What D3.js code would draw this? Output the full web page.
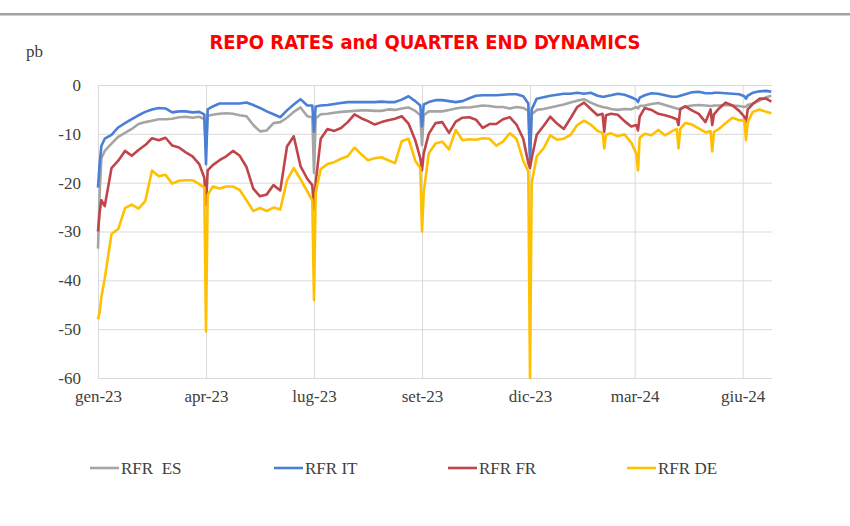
<!DOCTYPE html>
<html>
<head>
<meta charset="utf-8">
<script src="https://cdn.jsdelivr.net/npm/d3@7"></script>
<style>
  body { margin: 0; background: #fff; }
  svg { display: block; }
  .tick text { font-family: "Liberation Serif", serif; font-size: 17px; fill: #404040; }
</style>
</head>
<body>
<script>
// business-day index of each sample (0 = first trading day of 2023)
const days = [
  0, 1, 2, 4, 8, 12, 16, 20, 24, 28,
  32, 36, 40, 44, 48, 52, 56, 60, 63, 64, 65,
  68, 72, 76, 80, 84, 88, 92, 96, 100, 104,
  108, 112, 116, 120, 124, 127, 128, 129, 132, 136,
  140, 144, 148, 152, 156, 160, 164, 168, 172, 176,
  180, 184, 188, 191, 192, 193, 196, 200, 204, 208,
  212, 216, 220, 224, 228, 232, 236, 240, 244, 248,
  252, 255, 256, 257, 260, 264, 268, 272, 276, 280,
  284, 288, 292, 296, 299, 300, 301, 304, 308, 312,
  316, 319, 320, 321, 324, 328, 332, 336, 340, 343,
  344, 345, 348, 352, 356, 360, 363, 364, 365, 368,
  372, 376, 380, 383, 384, 385, 388, 392, 396, 399
]

const rfrES = [
  -33.5, -22, -15, -13.5, -12, -10.6, -9.8, -9, -8, -7.6,
  -7.3, -7, -7, -6.9, -6.6, -6.5, -6.7, -6.5, -7, -13, -6.3,
  -6.1, -5.9, -5.8, -5.9, -6.2, -6.4, -8.2, -9.5, -9.3, -7.8,
  -7.6, -6.7, -5.5, -4.6, -6.4, -6.6, -18, -6.8, -6, -5.9,
  -5.7, -5.5, -5.4, -5.3, -5.2, -5.2, -5.3, -5.3, -5, -5.1,
  -4.8, -4.6, -5.3, -6.2, -12.3, -6.2, -5.4, -5.4, -5.4, -5.1,
  -4.8, -4.6, -4.6, -4.4, -4.2, -4.3, -4.5, -4.5, -4.8, -4.5,
  -4.7, -5.3, -14, -6, -5.1, -4.9, -4.6, -4.3, -4, -3.6,
  -3.2, -2.9, -3.6, -4.2, -4.5, -4.6, -4.6, -4.9, -5.1, -4.9,
  -5, -4.5, -4.8, -4.3, -4.2, -3.9, -3.7, -4.1, -4.5, -4.8,
  -4.9, -4.8, -4.4, -4.2, -4.1, -4.2, -4.3, -4.3, -4.2, -4.2,
  -4.1, -4.2, -4.3, -4.5, -4.4, -4.1, -3.8, -3.2, -2.5, -2.2
]

const rfrIT = [
  -21, -16, -12.5, -11, -10.2, -8.7, -7.8, -7, -6.2, -5.5,
  -5, -4.7, -4.8, -5.6, -5.4, -5.4, -5.6, -5.5, -6, -16.2, -5,
  -4.4, -3.8, -3.8, -3.8, -3.8, -3.6, -4.1, -4.7, -5.4, -6,
  -6.6, -5.2, -4, -2.9, -4.2, -4.2, -9.5, -4.4, -4.2, -4.1,
  -3.9, -3.7, -3.5, -3.5, -3.5, -3.5, -3.5, -3.4, -3.5, -3.5,
  -3, -2.3, -3.3, -4.2, -8.5, -4, -3.5, -3.1, -3.1, -3.3,
  -3.5, -3.3, -2.7, -2.2, -2.1, -2.1, -2.1, -2, -1.9, -1.9,
  -2.3, -3.8, -16, -5, -2.8, -2.5, -2.2, -2, -1.8, -1.8,
  -1.6, -1.8, -1.6, -2.2, -2.4, -2.4, -2.3, -2.1, -1.8, -2,
  -2.5, -3, -3.5, -2.6, -2.1, -1.7, -1.8, -2.1, -2.4, -2.4,
  -2.3, -2.2, -1.9, -1.5, -1.4, -1.7, -1.7, -1.7, -1.6, -1.6,
  -1.7, -1.8, -1.9, -2.3, -2.8, -2.2, -1.6, -1.3, -1.2, -1.4
]

const rfrFR = [
  -30, -26, -23.6, -24.8, -17, -15.5, -13.5, -14.5, -13.3, -12.3,
  -10.9, -11.3, -10.8, -12.4, -12.8, -13.8, -14.6, -16.2, -19, -24.5, -17.5,
  -16.4, -15.4, -14.6, -13.5, -14.5, -16.8, -21.2, -22.8, -22.4, -20.5,
  -21.6, -12.6, -10.5, -16.6, -19.2, -20.5, -25.5, -20, -11, -9,
  -9.4, -8.8, -7.6, -6, -6.8, -7.4, -8.1, -7.6, -7.2, -6.9,
  -6.4, -7.9, -11.3, -15, -17.5, -14, -10, -7.8, -7.6, -9.8,
  -7.5, -6.7, -6.6, -7.1, -8.8, -8, -8, -7, -6.6, -8.1,
  -11, -16, -17, -15, -10.2, -8.4, -6.5, -7.9, -9, -6.8,
  -4.5, -3.6, -4.9, -6.2, -5.9, -9.6, -6.2, -5.9, -6.1, -7.4,
  -8.5, -8.2, -9.3, -6.5, -4.7, -5.1, -5.9, -6.2, -6.6, -7,
  -8.2, -5, -4.4, -5.2, -5.9, -7.6, -5, -8.2, -6, -4.8,
  -3.6, -4.2, -5.3, -6.5, -7.6, -5, -3.9, -2.8, -2.8, -3.4
]

const rfrDE = [
  -48, -46.5, -43.4, -39.6, -30.5, -29.5, -25.2, -24.5, -25.3, -23.8,
  -17.5, -18.7, -18.4, -20.2, -19.6, -19.5, -19.5, -20.3, -21, -50.5, -22.5,
  -20.8, -21.2, -20.8, -20.8, -21.5, -23.6, -25.8, -25.2, -25.8, -25.1,
  -25.5, -19.5, -17, -19.3, -21.8, -23.6, -44, -22, -17.2, -16.2,
  -15.8, -15.1, -14.6, -12.8, -14.2, -15.4, -15, -14.8, -15.4, -16,
  -11.5, -11, -15.5, -17, -30, -22, -14, -12, -11.6, -13.2,
  -9.2, -11.3, -11.1, -11.2, -10.9, -11, -12.4, -11.6, -9.9, -11,
  -15.5, -17.7, -60, -20, -14.6, -13, -10.3, -11.2, -11, -10.2,
  -8.2, -7.3, -8.1, -9.4, -9.8, -13, -10.2, -9.9, -10.5, -10.1,
  -11.8, -14, -17.5, -10.8, -10, -10.3, -9.2, -10.3, -9.5, -9,
  -13, -9, -7.8, -8.1, -8.9, -9.7, -9.5, -13.6, -9.6, -9,
  -7.8, -6.7, -7.2, -7.3, -11.3, -7.6, -5.5, -5, -5.5, -5.8
]

const seriesNames = ['RFR  ES', 'RFR IT', 'RFR FR', 'RFR DE']
const seriesColors = ['#a5a5a5', '#4a7fd6', '#c0454a', '#ffc000']
const seriesValues = [rfrES, rfrIT, rfrFR, rfrDE]

const xTickDays = [0, 64, 128, 192, 256, 318, 382]
const xTickLabels = ['gen-23', 'apr-23', 'lug-23', 'set-23', 'dic-23', 'mar-24', 'giu-24']
const yTicks = [0, -10, -20, -30, -40, -50, -60]

const width = 850
const height = 526
const plotLeft = 98, plotRight = 773, plotTop = 85, plotBottom = 378

const svg = d3.select('body').append('svg')
    .attr('width', width)
    .attr('height', height)

//top rule of the page
svg.append('rect')
    .attr('x', 0).attr('y', 13)
    .attr('width', width).attr('height', 2.5)
    .attr('fill', '#a3a3a3')

svg.append('text')
    .attr('x', 425).attr('y', 49)
    .attr('text-anchor', 'middle')
    .attr('font-family', 'DejaVu Sans Condensed, DejaVu Sans, sans-serif')
    .attr('font-weight', 'bold')
    .attr('font-size', 20)
    .attr('fill', '#ff0000')
    .text('REPO RATES and QUARTER END DYNAMICS')

svg.append('text')
    .attr('x', 26).attr('y', 57)
    .attr('font-family', 'Liberation Serif, serif')
    .attr('font-size', 17)
    .attr('fill', '#404040')
    .text('pb')

let xScale = d3.scaleLinear().domain([0, 400]).range([plotLeft, plotRight])
let yScale = d3.scaleLinear().domain([-60, 0]).range([plotBottom, plotTop])

//gridlines
svg.append('g')
    .attr('transform', 'translate(' + plotLeft + ',0)')
    .call(d3.axisLeft(yScale).tickValues(yTicks).tickSize(-(plotRight - plotLeft - 1)).tickFormat(''))
    .call(g => g.select('.domain').remove())
    .call(g => g.selectAll('line').attr('stroke', '#d9d9d9'))
svg.append('g')
    .attr('transform', 'translate(0,' + plotBottom + ')')
    .call(d3.axisBottom(xScale).tickValues(xTickDays).tickSize(-(plotBottom - plotTop)).tickFormat(''))
    .call(g => g.select('.domain').remove())
    .call(g => g.selectAll('line').attr('stroke', '#d9d9d9'))

//axis labels (plain hyphen for negatives, as in the source)
svg.append('g')
    .attr('transform', 'translate(' + (plotLeft - 17) + ',0)')
    .call(d3.axisLeft(yScale).tickValues(yTicks).tickSize(0).tickPadding(0).tickFormat(d => String(d)))
    .call(g => g.select('.domain').remove())
svg.append('g')
    .attr('transform', 'translate(0,' + (plotBottom + 12) + ')')
    .call(d3.axisBottom(xScale).tickValues(xTickDays).tickSize(0).tickPadding(0)
        .tickFormat((d, i) => xTickLabels[i]))
    .call(g => g.select('.domain').remove())

let line = d3.line()
    .x((d, i) => xScale(days[i]))
    .y(d => yScale(d))

seriesValues.forEach((vals, k) => {
    svg.append('path')
        .datum(vals)
        .attr('fill', 'none')
        .attr('stroke', seriesColors[k])
        .attr('stroke-width', 2.6)
        .attr('stroke-linejoin', 'round')
        .attr('d', line)
})

//legend
const legendX = [90, 274, 448, 627]
seriesNames.forEach((name, k) => {
    let g = svg.append('g').attr('transform', 'translate(' + legendX[k] + ',468)')
    g.append('line')
        .attr('x1', 0).attr('x2', 29)
        .attr('stroke', seriesColors[k])
        .attr('stroke-width', 2.6)
    g.append('text')
        .attr('x', 31).attr('y', 6)
        .attr('font-family', 'Liberation Serif, serif')
        .attr('font-size', 17)
        .attr('fill', '#404040')
        .style('white-space', 'pre')
        .text(name)
})
</script>
</body>
</html>
